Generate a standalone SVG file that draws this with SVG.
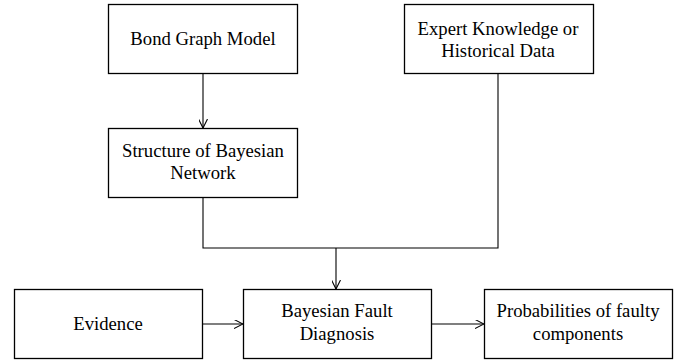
<svg xmlns="http://www.w3.org/2000/svg" width="679" height="362" viewBox="0 0 679 362">
<style>
.box{fill:#fff;stroke:#000;stroke-width:1.3}
.t{font-family:"Liberation Serif","Times New Roman",serif;font-size:18.7px;fill:#000;text-anchor:middle}
.c{fill:none;stroke:#000;stroke-width:1.1}
</style>
<defs>
<marker id="v" viewBox="0 0 9 9" refX="9" refY="4.5" markerWidth="9" markerHeight="9" markerUnits="userSpaceOnUse" orient="auto">
<path d="M0,0 L9,4.5 L0,9" fill="none" stroke="#000" stroke-width="1.1"/>
</marker>
</defs>
<rect width="679" height="362" fill="#fff"/>
<g id="connectors">
<path class="c" d="M203,73 V128" marker-end="url(#v)"/>
<path class="c" d="M203,198 V248 H498 V73"/>
<path class="c" d="M336,248 V289" marker-end="url(#v)"/>
<path class="c" d="M202,324 H243" marker-end="url(#v)"/>
<path class="c" d="M431,324 H484" marker-end="url(#v)"/>
</g>
<g id="bond">
<rect class="box" x="108.5" y="4.5" width="189" height="69"/>
<text class="t" x="203" y="45">Bond Graph Model</text>
</g>
<g id="expert">
<rect class="box" x="404.5" y="4.5" width="189" height="69"/>
<text class="t" x="498" y="35">Expert Knowledge or</text>
<text class="t" x="498" y="57">Historical Data</text>
</g>
<g id="structure">
<rect class="box" x="108.5" y="128.5" width="189" height="69"/>
<text class="t" x="203" y="157">Structure of Bayesian</text>
<text class="t" x="203" y="179">Network</text>
</g>
<g id="evidence">
<rect class="box" x="14.5" y="289.5" width="188" height="69"/>
<text class="t" x="108" y="330">Evidence</text>
</g>
<g id="diagnosis">
<rect class="box" x="243.5" y="289.5" width="188" height="69"/>
<text class="t" x="337" y="317">Bayesian Fault</text>
<text class="t" x="337" y="340">Diagnosis</text>
</g>
<g id="probabilities">
<rect class="box" x="484.5" y="289.5" width="188" height="69"/>
<text class="t" x="578" y="317">Probabilities of faulty</text>
<text class="t" x="578" y="340">components</text>
</g>
</svg>
